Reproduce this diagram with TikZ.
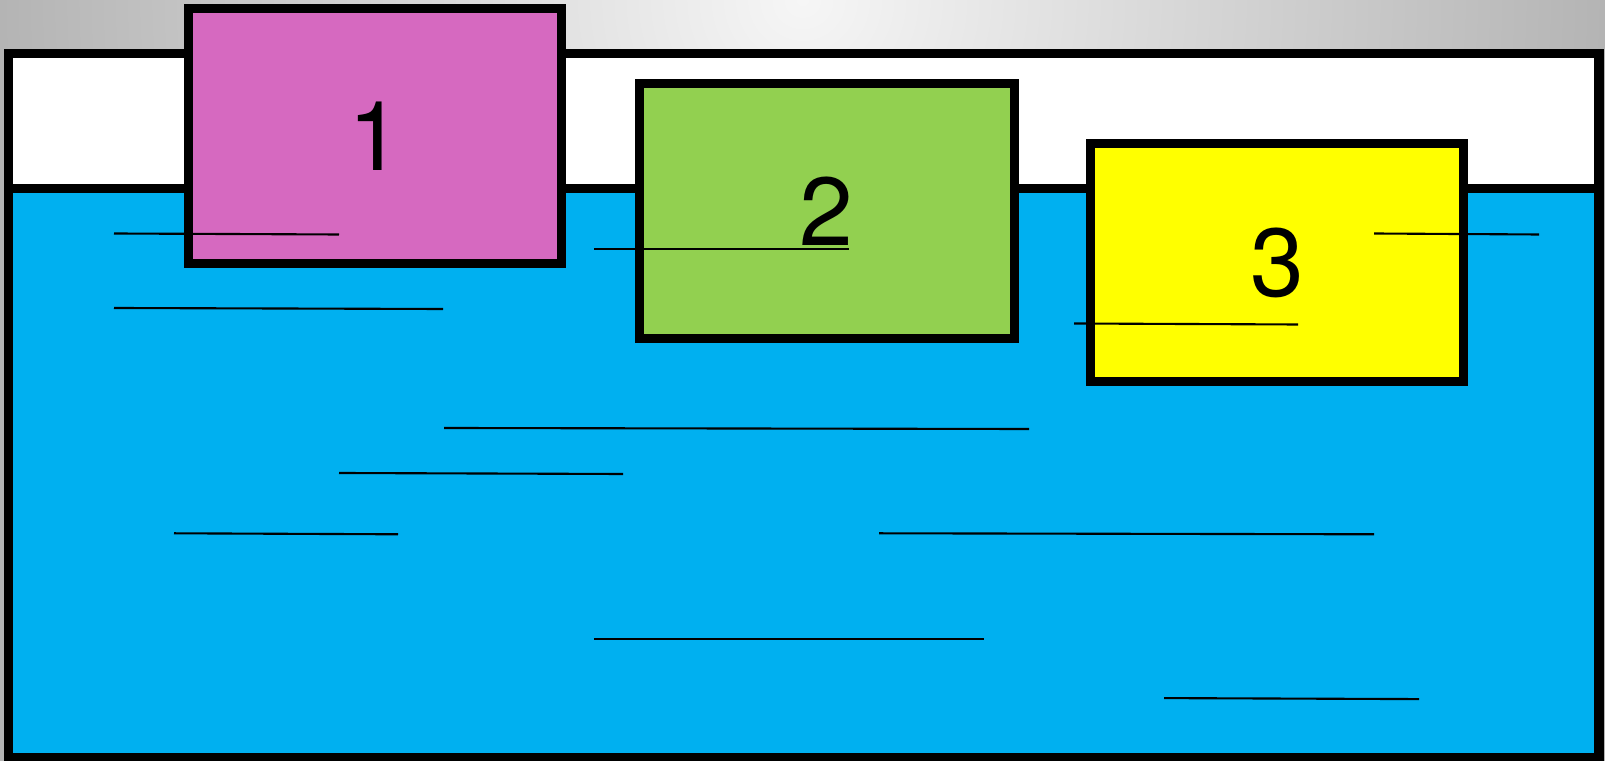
\documentclass[tikz,border=0pt]{standalone}
\usepackage{fontspec}
\setmainfont{TeX Gyre Heros}
\definecolor{water}{HTML}{00B0F0}
\definecolor{pinkblock}{HTML}{D669C0}
\definecolor{greenblock}{HTML}{92D050}
\definecolor{yellowblock}{HTML}{FFFF00}
\definecolor{bglight}{RGB}{246,246,246}
\definecolor{bgdark}{RGB}{180,180,180}
\tikzset{
  block/.style={draw, line width=2.6pt, inner sep=0pt, minimum width=3.73cm,
    font=\fontsize{27.5}{30}\selectfont},
  ripple/.style={line width=0.6pt}
}
\begin{document}
\begin{tikzpicture}[x=0.01cm, y=-0.01cm]
  \useasboundingbox (0,0) rectangle (1605,761);
  \shade[inner color=bglight, outer color=bgdark] (0,-761) rectangle (1605,761);
  % tank
  \fill[white] (8.5,53.5) rectangle (1599,188.5);
  \fill[water] (8.5,188.5) rectangle (1599,758);
  \draw[line width=2.6pt] (8.5,53.5) rectangle (1599,758);
  \draw[line width=2.6pt] (8.5,188.5) -- (1599,188.5);
  % floating blocks
  \node[block, fill=pinkblock, minimum height=2.545cm] (b1) at (375,136.25) {1};
  \node[block, fill=greenblock, minimum width=3.745cm, minimum height=2.545cm] (b2) at (826.75,211.25) {2};
  \node[block, fill=yellowblock, minimum height=2.38cm] (b3) at (1277,262.6) {3};
  % ripples
  \draw[ripple] (114,233.5) -- (339,234.5);
  \draw[ripple] (594,248.7) -- (849,248.7);
  \draw[ripple] (1374,233.5) -- (1539,234.5);
  \draw[ripple] (114,308) -- (443,309);
  \draw[ripple] (1074,323.5) -- (1298,324.5);
  \draw[ripple] (444,428) -- (1029,429);
  \draw[ripple] (339,473) -- (623,474);
  \draw[ripple] (174,533.3) -- (398,534.3);
  \draw[ripple] (879,533.3) -- (1374,534.3);
  \draw[ripple] (594,638.7) -- (984,638.7);
  \draw[ripple] (1164,698.1) -- (1419,699.1);
\end{tikzpicture}
\end{document}
